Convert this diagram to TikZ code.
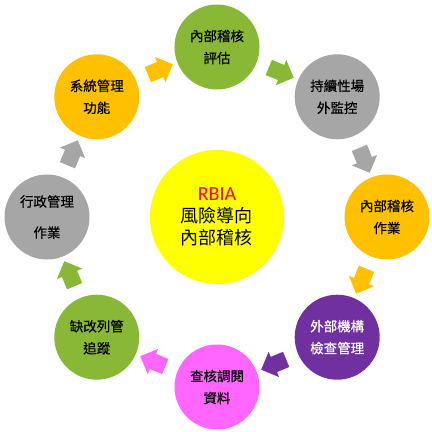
\documentclass[tikz,border=0pt]{standalone}
\usepackage{fontspec}
\setmainfont{Noto Sans CJK TC}
\newfontfamily\cjkm{Noto Sans CJK TC}[FakeBold=0.5]
\newfontfamily\latinfont{Carlito}
\usetikzlibrary{shapes.arrows}
\definecolor{cgreen}{HTML}{88B835}
\definecolor{cgray}{HTML}{A6A6A6}
\definecolor{corange}{HTML}{FFC000}
\definecolor{cpurple}{HTML}{7030A0}
\definecolor{cpink}{HTML}{FF66FF}
\definecolor{cyellow}{HTML}{FFFF00}
\definecolor{cred}{HTML}{FF0000}
\begin{document}
\begin{tikzpicture}[x=1pt,y=1pt,
  circ/.style={circle, minimum size=85pt, inner sep=0pt, align=center,
    font=\cjkm\fontsize{13.5}{22}\selectfont},
  blk/.style={single arrow, draw=none, minimum height=27pt, minimum width=27pt,
    single arrow head extend=5.5pt, inner sep=8pt}]
\useasboundingbox (-217,-215) rectangle (215,217);
% centre
\node[circle, minimum size=134pt, inner sep=0pt, fill=cyellow, align=center,
  font=\fontsize{18}{22}\selectfont] (c) at (0,0)
  {{\latinfont\fontsize{20}{22}\selectfont\color{cred}RBIA}\\風險導向\\內部稽核};
% ring
\node[circ, fill=cgreen]  (n1) at (90:170)   {內部稽核\\評估};
\node[circ, fill=cgray]   (n2) at (45:170)   {持續性場\\外監控};
\node[circ, fill=corange] (n3) at (0:170)    {內部稽核\\作業};
\node[circ, fill=cpurple, text=white] (n4) at (-45:170) {外部機構\\檢查管理};
\node[circ, fill=cpink]   (n5) at (-90:170)  {查核調閱\\資料};
\node[circ, fill=cgreen]  (n6) at (-135:170) {缺改列管\\追蹤};
\node[circ, fill=cgray, font=\cjkm\fontsize{13.5}{31}\selectfont] (n7) at (180:170) {行政管理\\作業};
\node[circ, fill=corange] (n8) at (135:170)  {系統管理\\功能};
% arrows (colour of the source circle, clockwise)
\node[blk, fill=corange, rotate=22.5]  (a1) at (112.5:158) {};
\node[blk, fill=cgreen,  rotate=-22.5] (a2) at (67.5:158)  {};
\node[blk, fill=cgray,   rotate=-67.5] (a3) at (22.5:158)  {};
\node[blk, fill=corange, rotate=-112.5] (a4) at (-22.5:158) {};
\node[blk, fill=cpurple, rotate=-157.5] (a5) at (-67.5:158) {};
\node[blk, fill=cpink,   rotate=157.5] (a6) at (-112.5:158) {};
\node[blk, fill=cgreen,  rotate=112.5] (a7) at (-157.5:158) {};
\node[blk, fill=cgray,   rotate=67.5]  (a8) at (157.5:158) {};
\end{tikzpicture}
\end{document}
